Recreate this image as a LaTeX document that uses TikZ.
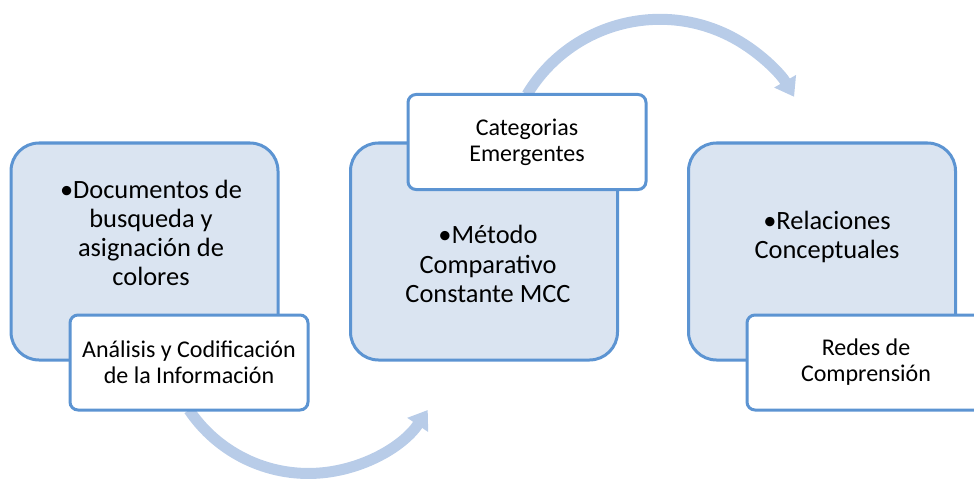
\documentclass[tikz,border=0pt]{standalone}
\usepackage{fontspec}
\setmainfont{Carlito}
\usetikzlibrary{arrows.meta}

\definecolor{boxfill}{RGB}{218,228,241}
\definecolor{boxline}{RGB}{92,148,210}
\definecolor{flowblue}{RGB}{184,204,232}

\tikzset{
  stage/.style={draw=boxline, fill=boxfill, line width=1.5pt, rounded corners=14pt,
    minimum width=133.5pt, minimum height=108.5pt},
  sub/.style={draw=boxline, fill=white, line width=1.5pt, rounded corners=4pt,
    minimum width=119pt, minimum height=47.5pt, align=center,
    font=\fontsize{12}{13}\selectfont},
  stagetext/.style={align=center, font=\fontsize{13.2}{14.6}\selectfont},
  flow/.style={draw=flowblue, line width=5.5pt, -{Triangle[width=12pt,length=9pt]}}
}

\begin{document}
\begin{tikzpicture}[x=0.5pt,y=-0.5pt]
\useasboundingbox (0,0) rectangle (974,481);
% anchors of the two curved arrows
\coordinate (a1) at (189,410);
\coordinate (a2) at (527,94.5);
\path[flow] (a1) arc[start angle=146, end angle=34, radius=144];
\path[flow] (a2) arc[start angle=-149, end angle=-30, radius=155];
\node[stage] (s1) at (144.5,251.5) {};
\node[stage] (s2) at (484,251.5) {};
\node[stage] (s3) at (822,251.5) {};
\node[sub] (sub1) at (189,362.5) {Análisis y Codificación\\de la Información};
\node[sub] (sub2) at (527,142) {Categorias\\Emergentes};
\node[sub] (sub3) at (866,362.5) {Redes de\\Comprensión};
\node[stagetext] (t1) at (151,233) {•Documentos de\\busqueda y\\asignación de\\colores};
\node[stagetext] (t2) at (488,264) {•Método\\Comparativo\\Constante MCC};
\node[stagetext] (t3) at (827,237) {•Relaciones\\Conceptuales};
\end{tikzpicture}
\end{document}
